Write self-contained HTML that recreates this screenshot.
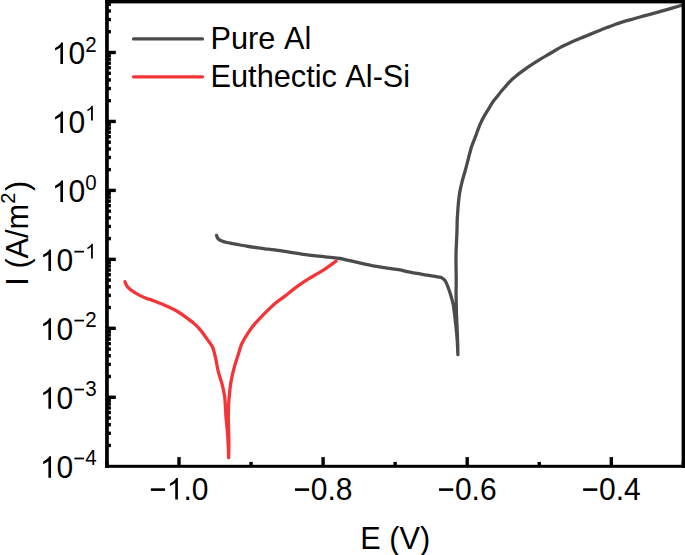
<!DOCTYPE html><html><head><meta charset="utf-8"><style>html,body{margin:0;padding:0;background:#fff;}svg{display:block;}text{font-family:"Liberation Sans",sans-serif;fill:#000;font-kerning:none;font-feature-settings:"kern" 0;}</style></head><body>
<svg width="685" height="555" viewBox="0 0 685 555">
<rect width="685" height="555" fill="#fff"/>
<defs><clipPath id="c"><rect x="107.0" y="1.4" width="576.2" height="464.70000000000005"/></clipPath></defs>
<g>
<g clip-path="url(#c)" fill="none" stroke-width="3.3" stroke-linejoin="round" stroke-linecap="round">
<path d="M216.60,235.40C216.77,235.83 217.12,237.27 217.60,238.00C218.08,238.73 218.68,239.27 219.50,239.80C220.32,240.33 221.25,240.75 222.50,241.20C223.75,241.65 225.53,242.13 227.00,242.50C228.47,242.87 229.13,242.98 231.30,243.40C233.47,243.82 237.08,244.48 240.00,245.00C242.92,245.52 245.87,246.03 248.80,246.50C251.73,246.97 254.90,247.42 257.60,247.80C260.30,248.18 262.17,248.45 265.00,248.80C267.83,249.15 270.57,249.33 274.60,249.90C278.63,250.47 284.33,251.45 289.20,252.20C294.07,252.95 298.93,253.73 303.80,254.40C308.67,255.07 313.53,255.67 318.40,256.20C323.27,256.73 329.40,257.22 333.00,257.60C336.60,257.98 338.00,258.17 340.00,258.50C342.00,258.83 343.00,259.15 345.00,259.60C347.00,260.05 349.03,260.53 352.00,261.20C354.97,261.87 359.80,262.95 362.80,263.60C365.80,264.25 367.97,264.67 370.00,265.10C372.03,265.53 371.23,265.57 375.00,266.20C378.77,266.83 388.43,268.28 392.60,268.90C396.77,269.52 397.10,269.35 400.00,269.90C402.90,270.45 405.40,271.32 410.00,272.20C414.60,273.08 422.65,274.37 427.60,275.20C432.55,276.03 437.22,276.68 439.70,277.20C442.18,277.72 441.65,277.78 442.50,278.30C443.35,278.82 444.12,279.42 444.80,280.30C445.48,281.18 446.03,282.40 446.60,283.60C447.17,284.80 447.72,286.22 448.20,287.50C448.68,288.78 449.08,290.05 449.50,291.30C449.92,292.55 450.33,293.80 450.70,295.00C451.07,296.20 451.30,297.00 451.70,298.50C452.10,300.00 452.72,302.08 453.10,304.00C453.48,305.92 453.68,307.67 454.00,310.00C454.32,312.33 454.67,315.20 455.00,318.00C455.33,320.80 455.63,323.13 456.00,326.80C456.37,330.47 456.88,335.37 457.20,340.00C457.52,344.63 457.78,352.17 457.90,354.60M457.90,354.60C457.82,351.33 457.63,341.60 457.40,335.00C457.17,328.40 456.72,321.67 456.50,315.00C456.28,308.33 456.15,301.02 456.10,295.00C456.05,288.98 456.22,285.48 456.20,278.90C456.18,272.32 455.93,261.98 456.00,255.50C456.07,249.02 456.43,244.25 456.60,240.00C456.77,235.75 456.90,233.33 457.00,230.00C457.10,226.67 457.10,222.67 457.20,220.00C457.30,217.33 457.40,216.80 457.60,214.00C457.80,211.20 458.05,206.80 458.40,203.20C458.75,199.60 459.08,196.00 459.70,192.40C460.32,188.80 461.18,185.20 462.10,181.60C463.02,178.00 464.22,174.40 465.20,170.80C466.18,167.20 467.27,162.83 468.00,160.00C468.73,157.17 469.00,156.03 469.60,153.80C470.20,151.57 470.80,149.00 471.60,146.60C472.40,144.20 473.42,142.00 474.40,139.40C475.38,136.80 476.52,133.60 477.50,131.00C478.48,128.40 479.23,126.20 480.30,123.80C481.37,121.40 482.57,119.00 483.90,116.60C485.23,114.20 486.82,111.83 488.30,109.40C489.78,106.97 491.38,104.07 492.80,102.00C494.22,99.93 495.45,98.72 496.80,97.00C498.15,95.28 499.43,93.48 500.90,91.70C502.37,89.92 504.07,88.03 505.60,86.30C507.13,84.57 508.77,82.68 510.10,81.30C511.43,79.92 512.48,78.98 513.60,78.00C514.72,77.02 515.73,76.25 516.80,75.40C517.87,74.55 518.27,74.20 520.00,72.90C521.73,71.60 524.80,69.27 527.20,67.60C529.60,65.93 532.00,64.43 534.40,62.90C536.80,61.37 539.20,59.85 541.60,58.40C544.00,56.95 546.40,55.60 548.80,54.20C551.20,52.80 554.13,51.10 556.00,50.00C557.87,48.90 558.28,48.52 560.00,47.60C561.72,46.68 563.80,45.70 566.30,44.50C568.80,43.30 572.08,41.67 575.00,40.40C577.92,39.13 581.30,37.90 583.80,36.90C586.30,35.90 587.37,35.48 590.00,34.40C592.63,33.32 596.77,31.55 599.60,30.40C602.43,29.25 604.43,28.48 607.00,27.50C609.57,26.52 612.50,25.40 615.00,24.50C617.50,23.60 619.50,22.88 622.00,22.10C624.50,21.32 627.00,20.65 630.00,19.80C633.00,18.95 636.67,17.92 640.00,17.00C643.33,16.08 645.67,15.50 650.00,14.30C654.33,13.10 660.83,11.27 666.00,9.80C671.17,8.33 678.50,6.22 681.00,5.50" stroke="#4b4b4b"/>
<path d="M125.00,281.70C125.42,282.55 125.87,284.98 127.50,286.80C129.13,288.62 131.63,290.65 134.80,292.60C137.97,294.55 143.97,297.37 146.50,298.50C149.03,299.63 148.20,298.77 150.00,299.40C151.80,300.03 154.87,301.33 157.30,302.30C159.73,303.27 162.17,304.17 164.60,305.20C167.03,306.23 169.47,307.28 171.90,308.50C174.33,309.72 176.77,310.98 179.20,312.50C181.63,314.02 184.07,315.82 186.50,317.60C188.93,319.38 191.73,321.42 193.80,323.20C195.87,324.98 197.50,326.80 198.90,328.30C200.30,329.80 200.80,330.35 202.20,332.20C203.60,334.05 205.62,337.00 207.30,339.40C208.98,341.80 211.15,344.45 212.30,346.60C213.45,348.75 213.57,349.98 214.20,352.30C214.83,354.62 215.40,357.18 216.10,360.50C216.80,363.82 217.42,368.30 218.40,372.20C219.38,376.10 220.98,380.00 222.00,383.90C223.02,387.80 223.95,392.08 224.50,395.60C225.05,399.12 225.05,401.43 225.30,405.00C225.55,408.57 225.67,412.75 226.00,417.00C226.33,421.25 226.93,426.00 227.30,430.50C227.67,435.00 227.98,439.48 228.20,444.00C228.42,448.52 228.53,455.33 228.60,457.60M228.60,457.60C228.65,455.33 228.90,448.52 228.90,444.00C228.90,439.48 228.70,435.00 228.60,430.50C228.50,426.00 228.30,421.25 228.30,417.00C228.30,412.75 228.43,408.57 228.60,405.00C228.77,401.43 228.90,399.50 229.30,395.60C229.70,391.70 230.18,386.28 231.00,381.60C231.82,376.92 232.93,372.20 234.20,367.50C235.47,362.80 237.32,357.40 238.60,353.40C239.88,349.40 240.18,347.13 241.90,343.50C243.62,339.87 246.58,335.07 248.90,331.60C251.22,328.13 253.00,325.92 255.80,322.70C258.60,319.48 262.40,315.60 265.70,312.30C269.00,309.00 272.33,305.63 275.60,302.90C278.87,300.17 282.38,298.12 285.30,295.90C288.22,293.68 290.45,291.63 293.10,289.60C295.75,287.57 298.50,285.57 301.20,283.70C303.90,281.83 306.60,280.08 309.30,278.40C312.00,276.72 314.68,275.23 317.40,273.60C320.12,271.97 322.48,270.68 325.60,268.60C328.72,266.52 334.35,262.35 336.10,261.10" stroke="#f3353a"/>
</g>
<g fill="#000">
<rect x="105.1" y="0" width="3.7" height="467.8"/>
<rect x="681.6" y="0" width="3.4" height="467.8"/>
<rect x="105.1" y="0" width="579.9" height="3.4"/>
<rect x="105.1" y="464.8" width="579.9" height="3.0"/>
<rect x="107.0" y="443.74" width="3.9" height="3.4"/>
<rect x="107.0" y="431.60" width="3.9" height="3.4"/>
<rect x="107.0" y="422.99" width="3.9" height="3.4"/>
<rect x="107.0" y="416.31" width="3.9" height="3.4"/>
<rect x="107.0" y="410.85" width="3.9" height="3.4"/>
<rect x="107.0" y="406.23" width="3.9" height="3.4"/>
<rect x="107.0" y="402.23" width="3.9" height="3.4"/>
<rect x="107.0" y="398.70" width="3.9" height="3.4"/>
<rect x="107.0" y="395.55" width="8.8" height="3.4"/>
<rect x="107.0" y="374.79" width="3.9" height="3.4"/>
<rect x="107.0" y="362.65" width="3.9" height="3.4"/>
<rect x="107.0" y="354.04" width="3.9" height="3.4"/>
<rect x="107.0" y="347.36" width="3.9" height="3.4"/>
<rect x="107.0" y="341.90" width="3.9" height="3.4"/>
<rect x="107.0" y="337.28" width="3.9" height="3.4"/>
<rect x="107.0" y="333.28" width="3.9" height="3.4"/>
<rect x="107.0" y="329.75" width="3.9" height="3.4"/>
<rect x="107.0" y="326.60" width="8.8" height="3.4"/>
<rect x="107.0" y="305.84" width="3.9" height="3.4"/>
<rect x="107.0" y="293.70" width="3.9" height="3.4"/>
<rect x="107.0" y="285.09" width="3.9" height="3.4"/>
<rect x="107.0" y="278.41" width="3.9" height="3.4"/>
<rect x="107.0" y="272.95" width="3.9" height="3.4"/>
<rect x="107.0" y="268.33" width="3.9" height="3.4"/>
<rect x="107.0" y="264.33" width="3.9" height="3.4"/>
<rect x="107.0" y="260.80" width="3.9" height="3.4"/>
<rect x="107.0" y="257.65" width="8.8" height="3.4"/>
<rect x="107.0" y="236.89" width="3.9" height="3.4"/>
<rect x="107.0" y="224.75" width="3.9" height="3.4"/>
<rect x="107.0" y="216.14" width="3.9" height="3.4"/>
<rect x="107.0" y="209.46" width="3.9" height="3.4"/>
<rect x="107.0" y="204.00" width="3.9" height="3.4"/>
<rect x="107.0" y="199.38" width="3.9" height="3.4"/>
<rect x="107.0" y="195.38" width="3.9" height="3.4"/>
<rect x="107.0" y="191.85" width="3.9" height="3.4"/>
<rect x="107.0" y="188.70" width="8.8" height="3.4"/>
<rect x="107.0" y="167.94" width="3.9" height="3.4"/>
<rect x="107.0" y="155.80" width="3.9" height="3.4"/>
<rect x="107.0" y="147.19" width="3.9" height="3.4"/>
<rect x="107.0" y="140.51" width="3.9" height="3.4"/>
<rect x="107.0" y="135.05" width="3.9" height="3.4"/>
<rect x="107.0" y="130.43" width="3.9" height="3.4"/>
<rect x="107.0" y="126.43" width="3.9" height="3.4"/>
<rect x="107.0" y="122.90" width="3.9" height="3.4"/>
<rect x="107.0" y="119.75" width="8.8" height="3.4"/>
<rect x="107.0" y="98.99" width="3.9" height="3.4"/>
<rect x="107.0" y="86.85" width="3.9" height="3.4"/>
<rect x="107.0" y="78.24" width="3.9" height="3.4"/>
<rect x="107.0" y="71.56" width="3.9" height="3.4"/>
<rect x="107.0" y="66.10" width="3.9" height="3.4"/>
<rect x="107.0" y="61.48" width="3.9" height="3.4"/>
<rect x="107.0" y="57.48" width="3.9" height="3.4"/>
<rect x="107.0" y="53.95" width="3.9" height="3.4"/>
<rect x="107.0" y="50.80" width="8.8" height="3.4"/>
<rect x="107.0" y="30.04" width="3.9" height="3.4"/>
<rect x="107.0" y="17.90" width="3.9" height="3.4"/>
<rect x="107.0" y="9.29" width="3.9" height="3.4"/>
<rect x="107.0" y="2.61" width="3.9" height="3.4"/>
<rect x="105.25" y="461.90" width="3.4" height="4.2"/>
<rect x="177.30" y="457.10" width="3.4" height="9"/>
<rect x="249.35" y="461.90" width="3.4" height="4.2"/>
<rect x="321.40" y="457.10" width="3.4" height="9"/>
<rect x="393.45" y="461.90" width="3.4" height="4.2"/>
<rect x="465.50" y="457.10" width="3.4" height="9"/>
<rect x="537.55" y="461.90" width="3.4" height="4.2"/>
<rect x="609.60" y="457.10" width="3.4" height="9"/>
<rect x="681.65" y="461.90" width="3.4" height="4.2"/>
<path d="M763 0L583 0L583 1147Q518 1085 413 1023Q308 961 223 930L223 1104Q374 1175 487 1276Q600 1377 647 1472L763 1472Z" transform="translate(39.86,477.80) scale(0.01465,-0.01465)"/>
<text transform="translate(56.54,477.80) scale(1,1.04)" font-size="30.0">0</text>
<path d="M114 592H1082V770H114Z" transform="translate(73.23,465.30) scale(0.01001,-0.01001)"/>
<text transform="translate(85.20,465.30) scale(1,1.04)" font-size="20.5">4</text>
<path d="M763 0L583 0L583 1147Q518 1085 413 1023Q308 961 223 930L223 1104Q374 1175 487 1276Q600 1377 647 1472L763 1472Z" transform="translate(39.86,408.85) scale(0.01465,-0.01465)"/>
<text transform="translate(56.54,408.85) scale(1,1.04)" font-size="30.0">0</text>
<path d="M114 592H1082V770H114Z" transform="translate(73.23,396.35) scale(0.01001,-0.01001)"/>
<text transform="translate(85.20,396.35) scale(1,1.04)" font-size="20.5">3</text>
<path d="M763 0L583 0L583 1147Q518 1085 413 1023Q308 961 223 930L223 1104Q374 1175 487 1276Q600 1377 647 1472L763 1472Z" transform="translate(39.86,339.90) scale(0.01465,-0.01465)"/>
<text transform="translate(56.54,339.90) scale(1,1.04)" font-size="30.0">0</text>
<path d="M114 592H1082V770H114Z" transform="translate(73.23,327.40) scale(0.01001,-0.01001)"/>
<text transform="translate(85.20,327.40) scale(1,1.04)" font-size="20.5">2</text>
<path d="M763 0L583 0L583 1147Q518 1085 413 1023Q308 961 223 930L223 1104Q374 1175 487 1276Q600 1377 647 1472L763 1472Z" transform="translate(39.86,270.95) scale(0.01465,-0.01465)"/>
<text transform="translate(56.54,270.95) scale(1,1.04)" font-size="30.0">0</text>
<path d="M114 592H1082V770H114Z" transform="translate(73.23,258.45) scale(0.01001,-0.01001)"/>
<path d="M763 0L583 0L583 1147Q518 1085 413 1023Q308 961 223 930L223 1104Q374 1175 487 1276Q600 1377 647 1472L763 1472Z" transform="translate(85.20,258.45) scale(0.01001,-0.01001)"/>
<path d="M763 0L583 0L583 1147Q518 1085 413 1023Q308 961 223 930L223 1104Q374 1175 487 1276Q600 1377 647 1472L763 1472Z" transform="translate(51.83,202.00) scale(0.01465,-0.01465)"/>
<text transform="translate(68.51,202.00) scale(1,1.04)" font-size="30.0">0</text>
<text transform="translate(85.20,189.50) scale(1,1.04)" font-size="20.5">0</text>
<path d="M763 0L583 0L583 1147Q518 1085 413 1023Q308 961 223 930L223 1104Q374 1175 487 1276Q600 1377 647 1472L763 1472Z" transform="translate(51.83,133.05) scale(0.01465,-0.01465)"/>
<text transform="translate(68.51,133.05) scale(1,1.04)" font-size="30.0">0</text>
<path d="M763 0L583 0L583 1147Q518 1085 413 1023Q308 961 223 930L223 1104Q374 1175 487 1276Q600 1377 647 1472L763 1472Z" transform="translate(85.20,120.55) scale(0.01001,-0.01001)"/>
<path d="M763 0L583 0L583 1147Q518 1085 413 1023Q308 961 223 930L223 1104Q374 1175 487 1276Q600 1377 647 1472L763 1472Z" transform="translate(51.83,64.10) scale(0.01465,-0.01465)"/>
<text transform="translate(68.51,64.10) scale(1,1.04)" font-size="30.0">0</text>
<text transform="translate(85.20,51.60) scale(1,1.04)" font-size="20.5">2</text>
<path d="M114 592H1082V770H114Z" transform="translate(149.19,499.60) scale(0.01465,-0.01465)"/>
<path d="M763 0L583 0L583 1147Q518 1085 413 1023Q308 961 223 930L223 1104Q374 1175 487 1276Q600 1377 647 1472L763 1472Z" transform="translate(166.71,499.60) scale(0.01465,-0.01465)"/>
<text transform="translate(183.39,499.60) scale(1,1.04)" font-size="30.0">.</text>
<text transform="translate(191.73,499.60) scale(1,1.04)" font-size="30.0">0</text>
<path d="M114 592H1082V770H114Z" transform="translate(293.29,499.60) scale(0.01465,-0.01465)"/>
<text transform="translate(310.81,499.60) scale(1,1.04)" font-size="30.0">0</text>
<text transform="translate(327.49,499.60) scale(1,1.04)" font-size="30.0">.</text>
<text transform="translate(335.83,499.60) scale(1,1.04)" font-size="30.0">8</text>
<path d="M114 592H1082V770H114Z" transform="translate(437.39,499.60) scale(0.01465,-0.01465)"/>
<text transform="translate(454.91,499.60) scale(1,1.04)" font-size="30.0">0</text>
<text transform="translate(471.59,499.60) scale(1,1.04)" font-size="30.0">.</text>
<text transform="translate(479.93,499.60) scale(1,1.04)" font-size="30.0">6</text>
<path d="M114 592H1082V770H114Z" transform="translate(581.49,499.60) scale(0.01465,-0.01465)"/>
<text transform="translate(599.01,499.60) scale(1,1.04)" font-size="30.0">0</text>
<text transform="translate(615.69,499.60) scale(1,1.04)" font-size="30.0">.</text>
<text transform="translate(624.03,499.60) scale(1,1.04)" font-size="30.0">4</text>
</g>
<text transform="translate(360.28,548.9) scale(1,1.04)" font-size="30.7">E</text><text transform="translate(389.29,548.9)" font-size="30.7">(</text><text transform="translate(399.51,548.9) scale(1,1.04)" font-size="30.7">V</text><text transform="translate(419.99,548.9)" font-size="30.7">)</text>
<g transform="translate(27.7,285.68) rotate(-90)"><text transform="scale(1,1.04)" font-size="30.7">I</text><text transform="translate(17.06,0)" font-size="30.7">(</text><text transform="translate(27.28,0) scale(1,1.04)" font-size="30.7">A/m</text><text transform="translate(81.86,-12.6) scale(1,1.04)" font-size="20">2</text><text transform="translate(94.6,0)" font-size="30.7">)</text></g>
<g stroke-width="3.3" stroke-linecap="round">
<line x1="133.5" y1="38.95" x2="202.5" y2="38.95" stroke="#4b4b4b"/>
<line x1="133.5" y1="76.85" x2="202.5" y2="76.85" stroke="#f3353a"/>
</g>
<text transform="translate(210.58,49.3) scale(1,1.04)" font-size="30.7">Pure Al</text>
<text transform="translate(210.58,87.2) scale(1,1.04)" font-size="30.7">Euthectic Al-Si</text>
</g>
</svg></body></html>
